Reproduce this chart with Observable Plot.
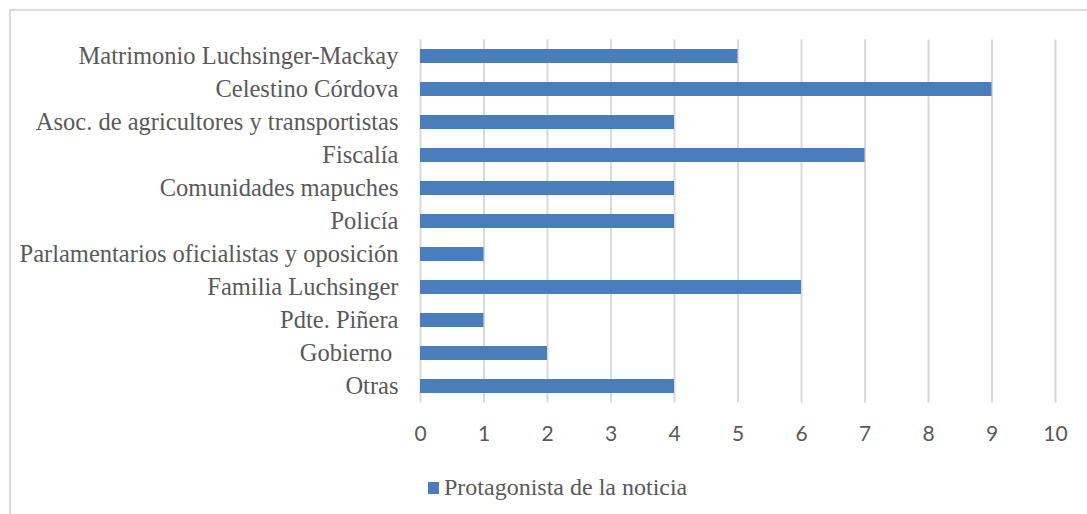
<!DOCTYPE html>
<html>
<head>
<meta charset="utf-8">
<script src="https://cdn.jsdelivr.net/npm/d3@7"></script>
<script src="https://cdn.jsdelivr.net/npm/@observablehq/plot@0.6"></script>
<style>
  html, body { margin: 0; padding: 0; background: #fff; }
  #frame { position: absolute; left: 9px; top: 9px; width: 1090px; height: 520px; border: 2px solid #d9d9d9; box-sizing: border-box; }
  #chart { position: absolute; left: 0; top: 0; }
  #legend { position: absolute; left: 428px; top: 473px; font-family: "Liberation Serif", "Times New Roman", serif; font-size: 24px; line-height: 28px; color: #595959; display: flex; align-items: center; }
  #legend .sw { width: 11px; height: 12px; background: #4a7dbb; margin-right: 5px; margin-top: 1px; }
</style>
</head>
<body>
<div id="frame"></div>
<div id="chart"></div>
<div id="legend"></div>
<script>
const categories = [
  "Matrimonio Luchsinger-Mackay",
  "Celestino Córdova",
  "Asoc. de agricultores y transportistas",
  "Fiscalía",
  "Comunidades mapuches",
  "Policía",
  "Parlamentarios oficialistas y oposición",
  "Familia Luchsinger",
  "Pdte. Piñera",
  "Gobierno\u00a0",
  "Otras"
];
const values = [5, 9, 4, 7, 4, 4, 1, 6, 1, 2, 4];
const xTicks = [0, 1, 2, 3, 4, 5, 6, 7, 8, 9, 10];
const seriesName = "Protagonista de la noticia";

const data = categories.map((c, i) => ({category: c, value: values[i]}));

const plot = Plot.plot({
  width: 1087,
  height: 460,
  marginLeft: 420,
  marginRight: 32,
  marginTop: 39.5,
  marginBottom: 57.5,
  style: {background: "transparent", color: "#595959"},
  x: {domain: [0, 10], ticks: xTicks, label: null},
  y: {domain: categories, label: null, paddingInner: 0.58, paddingOuter: 0.29},
  marks: [
    Plot.gridX(xTicks, {stroke: "#d9d9d9", strokeOpacity: 1, strokeWidth: 2}),
    Plot.barX(data, {x: "value", y: "category", fill: "#4a7dbb"}),
    Plot.axisX({ticks: xTicks, tickSize: 0, tickPadding: 23, fontSize: 21, fontFamily: "Lato, 'Open Sans', sans-serif", fill: "#595959", label: null}),
    Plot.axisY({tickSize: 0, tickPadding: 22, fontSize: 24.5, fontFamily: "'Liberation Serif', 'Times New Roman', serif", fill: "#595959", label: null})
  ]
});
document.getElementById("chart").appendChild(plot);

const lg = document.getElementById("legend");
const sw = document.createElement("span"); sw.className = "sw";
const tx = document.createElement("span"); tx.textContent = seriesName;
lg.appendChild(sw); lg.appendChild(tx);
</script>
</body>
</html>
